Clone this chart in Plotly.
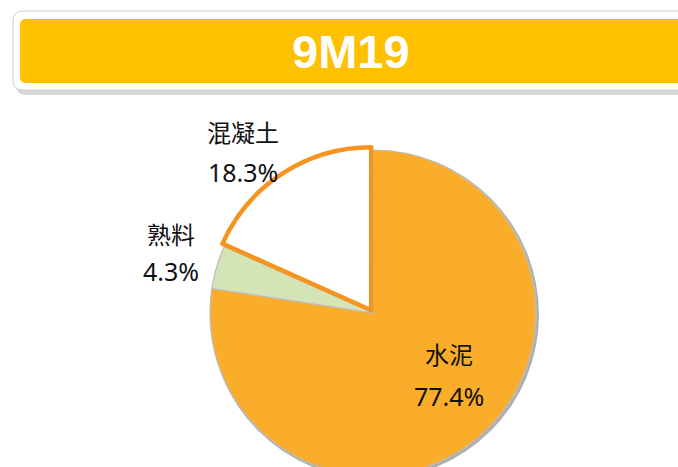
import plotly.graph_objects as go

# Data
labels = ["水泥", "熟料", "混凝土"]
values = [77.4, 4.3, 18.3]
pct_text = ["77.4%", "4.3%", "18.3%"]
title_text = "9M19"

W, H = 678, 490


def px(x, y):
    return x / W, 1 - y / H


def rrect(x0, y0, x1, y1, r):
    # rounded rectangle path, pixel coords -> paper coords
    def p(x, y):
        a, b = px(x, y)
        return f"{a:.5f},{b:.5f}"
    path = f"M{p(x0 + r, y0)} L{p(x1 - r, y0)} Q{p(x1, y0)} {p(x1, y0 + r)} "
    path += f"L{p(x1, y1 - r)} Q{p(x1, y1)} {p(x1 - r, y1)} "
    path += f"L{p(x0 + r, y1)} Q{p(x0, y1)} {p(x0, y1 - r)} "
    path += f"L{p(x0, y0 + r)} Q{p(x0, y0)} {p(x0 + r, y0)} Z"
    return path


cx, cy, r = 373, 313, 163
pull = 0.02
half = r * (1 + pull)

fig = go.Figure()

fig.add_trace(go.Pie(
    labels=labels,
    values=values,
    sort=False,
    direction="clockwise",
    rotation=0,
    pull=[0, 0, pull],
    textinfo="none",
    hoverinfo="label+percent",
    showlegend=False,
    marker=dict(
        colors=["#F9AD2B", "#D5E4B6", "#FFFFFF"],
        line=dict(color=["#BDBDBD", "#BDBDBD", "#F7941D"], width=[1.2, 1.2, 4.5]),
    ),
    domain=dict(x=[(cx - half) / W, (cx + half) / W],
                y=[1 - (cy + half) / H, 1 - (cy - half) / H]),
))

shapes = [
    # banner shadow, frame and fill
    dict(type="path", path=rrect(16, 15, 705, 95, 10), fillcolor="#BDBDBD",
         line=dict(width=0), opacity=0.6, layer="below"),
    dict(type="path", path=rrect(13, 11, 702, 90, 10), fillcolor="#FFFFFF",
         line=dict(color="#D0D0D0", width=1), layer="below"),
    dict(type="path", path=rrect(20, 19, 696, 83, 6), fillcolor="#FFC000",
         line=dict(width=0), layer="below"),
    # pie shadow ring
    dict(type="circle", xref="paper", yref="paper",
         x0=(cx - r) / W, x1=(cx + r + 3) / W,
         y0=1 - (cy + r + 3) / H, y1=1 - (cy - r) / H,
         fillcolor="#AFAFAF", line=dict(width=0), layer="below"),
]

cjk = "Noto Sans CJK TC"
num = "Noto Sans"
label_pos = [(449, 353, 396), (171, 234, 271), (243, 131, 172)]
tx, ty = px(351, 52)
annotations = [dict(x=tx, y=ty, xref="paper", yref="paper", xanchor="center", yanchor="middle",
                    text=f"<b>{title_text}</b>", showarrow=False,
                    font=dict(family="Liberation Sans", size=47, color="#FFFFFF"))]
for lab, pt, (lx, ly1, ly2) in zip(labels, pct_text, label_pos):
    a, b = px(lx, ly1)
    annotations.append(dict(x=a, y=b, xref="paper", yref="paper", xanchor="center",
                            yanchor="middle", text=lab, showarrow=False,
                            font=dict(family=cjk, size=24, color="#111111")))
    a, b = px(lx, ly2)
    annotations.append(dict(x=a, y=b, xref="paper", yref="paper", xanchor="center",
                            yanchor="middle", text=pt, showarrow=False,
                            font=dict(family=num, size=25, color="#111111")))

fig.update_layout(
    width=W, height=H,
    margin=dict(l=0, r=0, t=0, b=0),
    paper_bgcolor="#FFFFFF",
    plot_bgcolor="#FFFFFF",
    shapes=shapes,
    annotations=annotations,
)

fig.write_html("out.html", config={"displayModeBar": False},
               post_script="document.body.style.margin='0';document.body.style.overflow='hidden';")
